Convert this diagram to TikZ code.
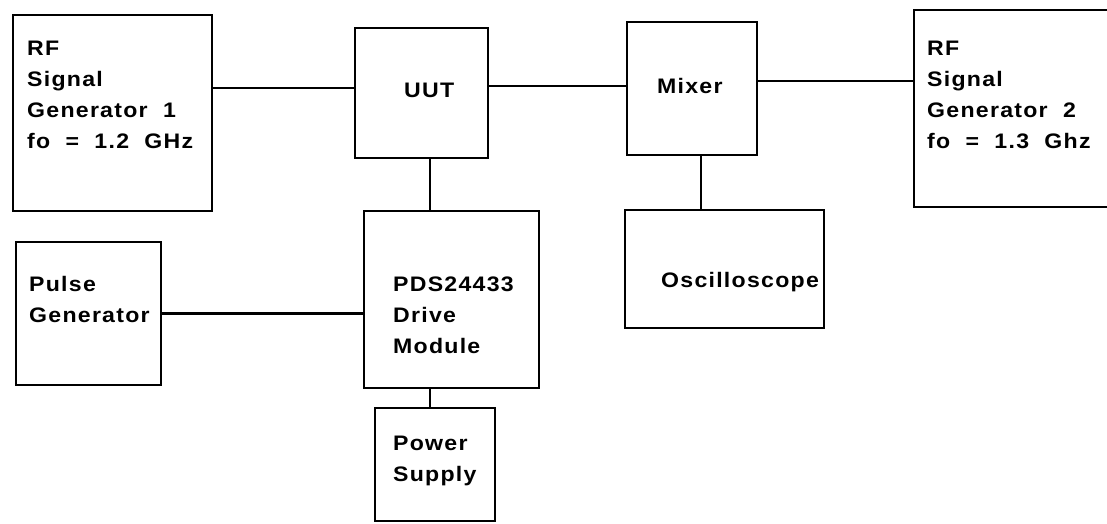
\documentclass[tikz,border=0pt]{standalone}
\usepackage{fontspec}
\setmainfont[FakeStretch=1.1,LetterSpace=6,WordSpace=2]{Liberation Sans}
\begin{document}
\begin{tikzpicture}[x=1pt, y=-1pt,
  unit/.style={draw, line width=2pt, inner sep=0pt},
  wire/.style={line width=2.8pt},
  lbl/.style={anchor=base west, inner sep=0pt, align=left,
    font=\fontsize{21}{31}\selectfont\bfseries}]
  \useasboundingbox (0,0) rectangle (1107,523);
  \clip (0,0) rectangle (1107,523);
  % Instrument boxes
  \node[unit, minimum width=199.5pt, minimum height=196pt] (gen1) at (112.25,113) {};
  \node[unit, minimum width=133pt, minimum height=130pt] (uut) at (421.5,93) {};
  \node[unit, minimum width=130pt, minimum height=133pt] (mixer) at (692,88.5) {};
  % second generator runs off the right edge
  \node[unit, minimum width=206pt, minimum height=197pt] (gen2) at (1017,108.5) {};
  \node[unit, minimum width=145pt, minimum height=143pt] (pulse) at (88.5,313.5) {};
  \node[unit, minimum width=175pt, minimum height=177pt] (pds) at (451.5,299.5) {};
  \node[unit, minimum width=199pt, minimum height=118pt] (osc) at (724.5,269) {};
  \node[unit, minimum width=120pt, minimum height=113pt] (ps) at (435,464.5) {};
  % Box texts (placed by the baseline of the last line)
  \node[lbl] (gen1txt) at (27,148) {RF\\Signal\\Generator 1\\fo = 1.2 GHz};
  \node[lbl] (uuttxt) at (404,97) {UUT};
  \node[lbl] (mixertxt) at (657,93) {Mixer};
  \node[lbl] (gen2txt) at (927,148) {RF\\Signal\\Generator 2\\fo = 1.3 Ghz};
  \node[lbl] (pulsetxt) at (29,322) {Pulse\\Generator};
  \node[lbl] (pdstxt) at (393,353) {PDS24433\\Drive\\Module};
  \node[lbl] (osctxt) at (661,287) {Oscilloscope};
  \node[lbl] (pstxt) at (393,481) {Power\\Supply};
  % RF path
  \draw[wire] ([yshift=5pt]uut.west) -- ([yshift=5pt]uut.west -| gen1.east);
  \draw[wire] ([yshift=2.5pt]mixer.west) -- ([yshift=2.5pt]mixer.west -| uut.east);
  \draw[wire] ([yshift=7.5pt]mixer.east) -- ([yshift=7.5pt]mixer.east -| gen2.west);
  % Drive and monitor connections
  \draw[wire] ([xshift=8.5pt]uut.south) -- ([xshift=8.5pt]uut.south |- pds.north);
  \draw[wire] (pulse.east) -- (pulse.east -| pds.west);
  \draw[wire] ([xshift=-5pt]ps.north) -- ([xshift=-5pt]ps.north |- pds.south);
  \draw[wire] ([xshift=9pt]mixer.south) -- ([xshift=9pt]mixer.south |- osc.north);
\end{tikzpicture}
\end{document}
